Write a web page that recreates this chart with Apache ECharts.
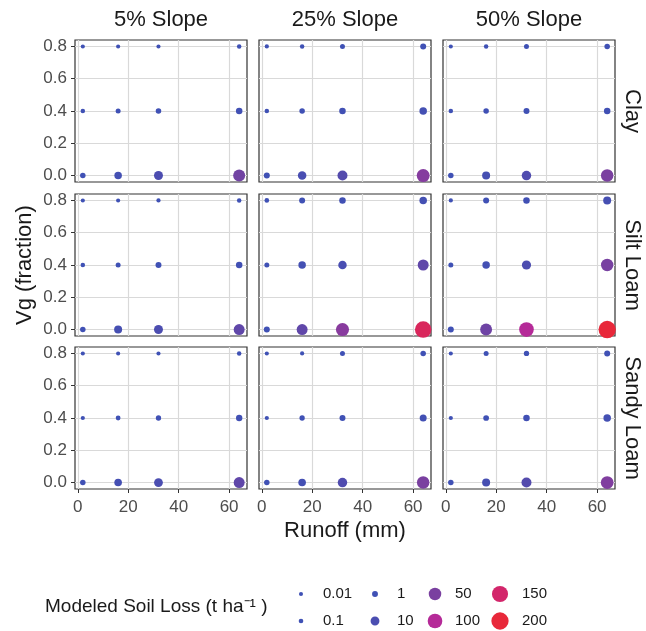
<!DOCTYPE html>
<html>
<head>
<meta charset="utf-8">
<script src="https://cdn.jsdelivr.net/npm/echarts@6/dist/echarts.min.js"></script>
<style>
  html, body { margin: 0; padding: 0; background: #fff; }
  #chart { width: 646px; height: 631px; }
</style>
</head>
<body>
<div id="chart"></div>
<script>
// facet levels
var slopes = ['5% Slope', '25% Slope', '50% Slope'];
var soils = ['Clay', 'Silt Loam', 'Sandy Loam'];
var runoff = [2, 16, 32, 64];
var vgLevels = [0, 0.4, 0.8];
var xTicks = [0, 20, 40, 60];
var yTicks = [0, 0.2, 0.4, 0.6, 0.8];
var lossBreaks = [0.01, 0.1, 1, 10, 50, 100, 150, 200];

// modeled soil loss, rows: vg 0, 0.4, 0.8 ; columns follow runoff
var lossClay5 = [[0.6, 4.3, 11, 42], [0.07, 0.25, 0.6, 1.9], [0.01, 0.01, 0.01, 0.07]];
var lossClay25 = [[1.1, 8.2, 18, 59], [0.07, 0.6, 1.9, 4.3], [0.02, 0.07, 0.25, 1.1]];
var lossClay50 = [[0.6, 6, 14, 50], [0.07, 0.6, 1.1, 1.9], [0.01, 0.07, 0.25, 0.6]];
var lossSilt5 = [[0.6, 6, 11, 28], [0.07, 0.25, 1.1, 1.9], [0.01, 0.01, 0.02, 0.07]];
var lossSilt25 = [[1.1, 28, 62, 165], [0.25, 4.3, 8.2, 28], [0.12, 1.1, 1.9, 4.3]];
var lossSilt50 = [[1.1, 40, 100, 205], [0.25, 4.3, 12, 48], [0.02, 1.1, 1.9, 6]];
var lossSandy5 = [[0.6, 4.6, 9.8, 28], [0.02, 0.16, 0.45, 1.6], [0.01, 0.01, 0.01, 0.07]];
var lossSandy25 = [[0.6, 4.6, 14, 50], [0.02, 0.45, 1.1, 2.9], [0.01, 0.02, 0.25, 0.6]];
var lossSandy50 = [[0.6, 6, 18, 55], [0.02, 0.8, 1.9, 4.3], [0.01, 0.25, 0.45, 1.1]];

var panels = [
  [lossClay5, lossClay25, lossClay50],
  [lossSilt5, lossSilt25, lossSilt50],
  [lossSandy5, lossSandy25, lossSandy50]
];

// colour ramp, linear in soil loss (0..200)
var colorStops = [
  [0, [63, 81, 181]],
  [0.25, [122, 64, 160]],
  [0.5, [181, 42, 152]],
  [0.75, [211, 38, 107]],
  [1, [232, 40, 58]]
];

function lossColor(v) {
  var t = Math.min(1, v / 200);
  for (var i = 1; i < colorStops.length; i++) {
    if (t <= colorStops[i][0]) {
      var a = colorStops[i - 1], b = colorStops[i];
      var f = (t - a[0]) / (b[0] - a[0]);
      var c = a[1].map(function(ch, k) { return Math.round(ch + f * (b[1][k] - ch)); });
      return 'rgb(' + c.join(',') + ')';
    }
  }
  return 'rgb(232,40,58)';
}

// point diameter, area grows with sqrt of loss
function lossSize(v) {
  return Math.sqrt(15 + 20 * Math.sqrt(v));
}

var chart = echarts.init(document.getElementById('chart'));

var gridLeft = [75, 259, 443];
var gridTop = [40, 194, 347];
var txtColor = '#4D4D4D';
var font = 'Liberation Sans';

var grids = [], xAxes = [], yAxes = [], series = [];
panels.forEach(function(row, r) {
  row.forEach(function(loss, c) {
    var gi = r * 3 + c;
    var bottomRow = r === 2, leftCol = c === 0;
    grids.push({
      left: gridLeft[c], top: gridTop[r], width: 172, height: 142,
      show: true, borderColor: '#333', borderWidth: 1.2, backgroundColor: '#fff'
    });
    xAxes.push({
      gridIndex: gi, type: 'value', min: -1.1, max: 67.1,
      axisLine: { show: false, onZero: false },
      axisTick: { show: bottomRow, customValues: xTicks, length: 4, lineStyle: { color: '#333' } },
      axisLabel: { show: bottomRow, customValues: xTicks, color: txtColor, fontSize: 17, fontFamily: font, margin: 10 },
      splitLine: { show: true, lineStyle: { color: '#D9D9D9', width: 1.2 } },
      name: (bottomRow && c === 1) ? 'Runoff (mm)' : '',
      nameLocation: 'middle', nameGap: 31,
      nameTextStyle: { color: '#1A1A1A', fontSize: 22, fontFamily: font }
    });
    yAxes.push({
      gridIndex: gi, type: 'value', min: -0.04, max: 0.84,
      axisLine: { show: false, onZero: false },
      axisTick: { show: leftCol, customValues: yTicks, length: 4, lineStyle: { color: '#333' } },
      axisLabel: {
        show: leftCol, customValues: yTicks, color: txtColor, fontSize: 17, fontFamily: font, margin: 8,
        formatter: function(v) { return v.toFixed(1); }
      },
      splitLine: { show: true, lineStyle: { color: '#D9D9D9', width: 1.2 } },
      name: (leftCol && r === 1) ? 'Vg (fraction)' : '',
      nameLocation: 'middle', nameGap: 39,
      nameTextStyle: { color: '#1A1A1A', fontSize: 22, fontFamily: font }
    });
    var data = [];
    vgLevels.forEach(function(vg, i) {
      runoff.forEach(function(x, j) {
        data.push([x, vg, loss[i][j]]);
      });
    });
    series.push({
      type: 'scatter', xAxisIndex: gi, yAxisIndex: gi, data: data,
      symbolSize: function(d) { return lossSize(d[2]); },
      itemStyle: { opacity: 1, color: function(p) { return lossColor(p.data[2]); } },
      silent: true
    });
  });
});

// legend keys, one legend per break so each key can have its own size
var legendColX = [301, 375, 435, 500];
var legendTextX = [323, 397, 455, 522];
var legendRowY = [594, 621];
var legends = [];
lossBreaks.forEach(function(b, k) {
  var col = Math.floor(k / 2), row = k % 2;
  var d = lossSize(b);
  var w = 2 * (legendTextX[col] - legendColX[col] - 5);
  series.push({ type: 'scatter', name: String(b), data: [], itemStyle: { color: lossColor(b), opacity: 1 } });
  legends.push({
    data: [String(b)], selectedMode: false, icon: 'circle', padding: 0,
    left: legendColX[col] - d / 2, top: legendRowY[row] - 10,
    itemWidth: w, itemHeight: d,
    textStyle: { color: '#1A1A1A', fontSize: 15, fontFamily: font, lineHeight: 20 }
  });
});

var graphics = [];
slopes.forEach(function(s, c) {
  graphics.push({
    type: 'text', x: gridLeft[c] + 86, y: 20,
    style: { text: s, fontSize: 22, fontFamily: font, fill: '#1A1A1A', align: 'center', verticalAlign: 'middle' }
  });
});
soils.forEach(function(s, r) {
  graphics.push({
    type: 'text', x: 632, y: gridTop[r] + 71, rotation: -Math.PI / 2,
    style: { text: s, fontSize: 22, fontFamily: font, fill: '#1A1A1A', align: 'center', verticalAlign: 'middle' }
  });
});
graphics.push({
  type: 'text', x: 45, y: 607,
  style: { text: 'Modeled Soil Loss (t ha\u207B\u00B9 )', fontSize: 19, fontFamily: font, fill: '#1A1A1A', align: 'left', verticalAlign: 'middle' }
});

chart.setOption({
  animation: false,
  backgroundColor: '#fff',
  grid: grids,
  xAxis: xAxes,
  yAxis: yAxes,
  series: series,
  legend: legends,
  graphic: graphics
});
</script>
</body>
</html>
